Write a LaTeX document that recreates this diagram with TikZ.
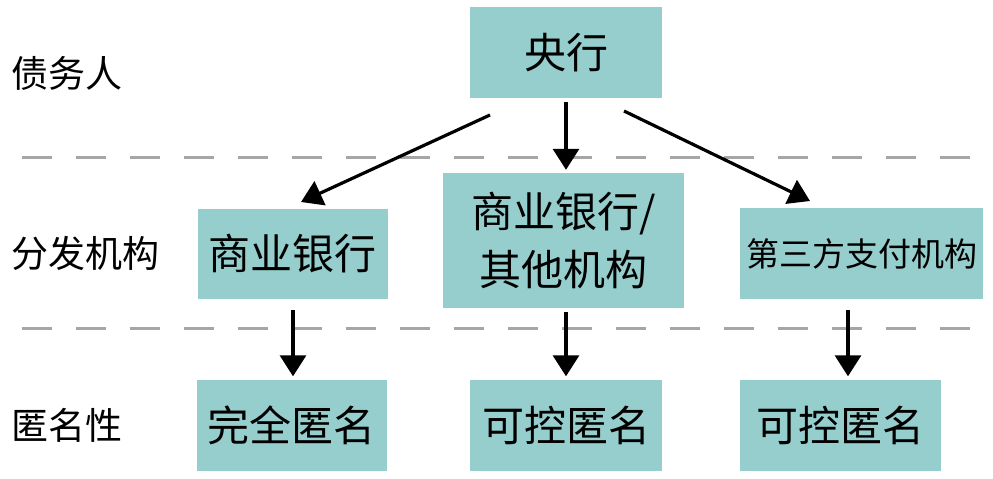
\documentclass[tikz,border=0pt]{standalone}
\usepackage{fontspec}
\newfontfamily\cjk{Noto Sans CJK SC}
\usepackage{tikz}
\usetikzlibrary{arrows.meta}
\definecolor{boxteal}{HTML}{96CECE}
\definecolor{lanegray}{HTML}{A6A6A6}
\tikzset{
    box/.style={fill=boxteal, inner sep=0pt, font=\cjk\fontsize{42}{50}\selectfont, align=center},
    lbl/.style={anchor=west, inner sep=0pt, font=\cjk\fontsize{37}{44}\selectfont},
    arr/.style={line width=3.2pt, -{Triangle[width=26pt,length=21pt]}},
    lane/.style={line width=3pt, lanegray, dash pattern=on 30pt off 24pt}
}

\begin{document}
\begin{tikzpicture}[x=1pt,y=-1pt]
    \useasboundingbox (0,0) rectangle (993,479);
    \draw [lane] (22,157) -- (975,157);
    \draw [lane] (22,328) -- (975,328);
    \node [lbl] (debt) at (11,73) {债务人};
    \node [lbl] (issue) at (11,253) {分发机构};
    \node [lbl] (anon) at (11,425) {匿名性};
    \node [box, minimum width=192pt, minimum height=91pt] (pboc) at (566,52.5) {央行};
    \node [box, minimum width=190pt, minimum height=90pt] (bank) at (292.5,254) {商业银行};
    \node [box, minimum width=241pt, minimum height=135pt, font=\cjk\fontsize{42}{58}\selectfont] (other) at (563.5,240.5) {商业银行/\\其他机构};
    \node [box, minimum width=243pt, minimum height=91pt, font=\cjk\fontsize{33}{40}\selectfont] (third) at (861.5,253.5) {第三方支付机构};
    \node [box, minimum width=190pt, minimum height=91pt] (full) at (291.5,425) {完全匿名};
    \node [box, minimum width=192pt, minimum height=91pt] (ctrla) at (566,425) {可控匿名};
    \node [box, minimum width=201pt, minimum height=91pt] (ctrlb) at (840.5,425) {可控匿名};
    \coordinate (l1) at (490,115); \coordinate (l2) at (301,202);
    \coordinate (r1) at (624,111); \coordinate (r2) at (810,201);
    \draw [arr] (l1) -- (l2);
    \draw [arr] ([yshift=-4pt]pboc.south) -- ([xshift=2.5pt,yshift=3pt]other.north);
    \draw [arr] (r1) -- (r2);
    \draw [arr] ([xshift=0.5pt,yshift=-11pt]bank.south) -- ([xshift=1.5pt,yshift=3pt]full.north);
    \draw [arr] ([xshift=2.5pt,yshift=-4pt]other.south) -- ([yshift=3pt]ctrla.north);
    \draw [arr] ([xshift=-13.5pt,yshift=-11pt]third.south) -- ([xshift=7.5pt,yshift=3pt]ctrlb.north);
\end{tikzpicture}
\end{document}
